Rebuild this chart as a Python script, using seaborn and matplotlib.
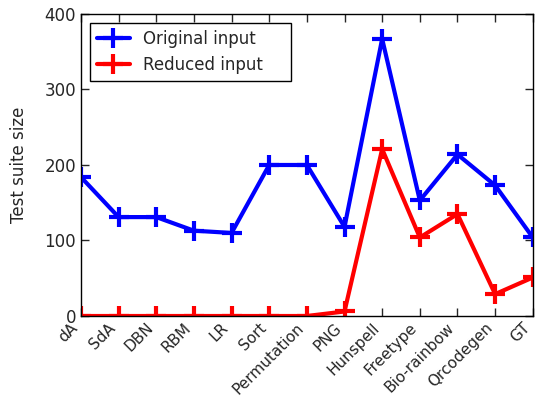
import numpy as np
import pandas as pd
import seaborn as sns
import matplotlib.pyplot as plt

programs = ["dA", "SdA", "DBN", "RBM", "LR", "Sort", "Permutation", "PNG",
            "Hunspell", "Freetype", "Bio-rainbow", "Qrcodegen", "GT"]
original = [184, 131, 131, 113, 110, 200, 200, 118, 367, 153, 214, 173, 104]
reduced = [0, 0, 0, 0, 0, 0, 0, 6, 221, 104, 135, 29, 51]

sns.set_style("ticks")
plt.rcParams["font.family"] = ["DejaVu Sans"]
plt.rcParams["xtick.direction"] = "in"
plt.rcParams["ytick.direction"] = "in"

fig = plt.figure(figsize=(5.36, 3.99), dpi=100)
ax = fig.add_axes([0.151, 0.208, 0.843, 0.757])

for vals, name, col in [(original, "Original input", "#0000ff"),
                        (reduced, "Reduced input", "#ff0000")]:
    sns.lineplot(x=programs, y=vals, sort=False, color=col, label=name,
                 marker="+", markersize=14, markeredgewidth=3,
                 markeredgecolor=col, linewidth=3, ax=ax)

ax.set_xlim(0, len(programs) - 1)
ax.set_ylim(0, 400)
ax.set_yticks([0, 100, 200, 300, 400])
ax.set_xlabel("")
ax.set_ylabel("Test suite size", fontsize=12, labelpad=12)
ax.tick_params(axis="both", which="both", top=True, right=True, length=6, width=1, labelsize=12)
ax.tick_params(axis="x", labelsize=11, pad=3)
plt.setp(ax.get_xticklabels(), rotation=45, ha="right")
for s in ax.spines.values():
    s.set_color("black")
    s.set_linewidth(1)

leg = ax.legend(loc="upper left", bbox_to_anchor=(0.02, 0.5, 0.445, 0.47), mode="expand",
                borderaxespad=0, fontsize=12, fancybox=False, frameon=True,
                edgecolor="black", borderpad=0.4, handlelength=2, framealpha=1)
leg.get_frame().set_linewidth(1)

fig.savefig("out.png", dpi=100)
